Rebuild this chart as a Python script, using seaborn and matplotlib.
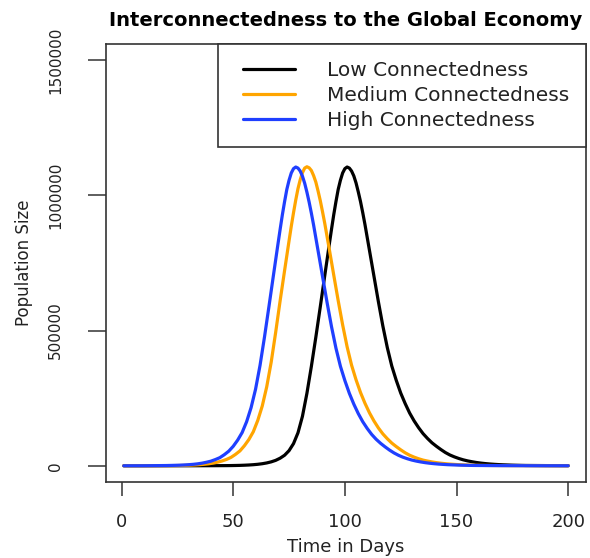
import pandas as pd
import matplotlib
matplotlib.use("Agg")
import matplotlib.pyplot as plt
import seaborn as sns
from matplotlib.lines import Line2D
from matplotlib.legend_handler import HandlerLine2D

sns.set_theme(style="white")
plt.rcParams['font.family'] = ['DejaVu Sans']

# curves: population in thousands,
# every 2 days on the flanks, every day around each peak
groups = ["Low Connectedness", "Medium Connectedness", "High Connectedness"]
colors = ["black", "#FFA500", "#1F3FFF"]

days_low = ([1, 15, 30, 40] + list(range(47, 93, 2)) + list(range(93, 110))
            + list(range(111, 183, 2)) + [190, 200])
pop_low = [0, 0, 0.1, 0.3,
           0.6, 0.8, 1.1, 1.5, 2.1, 2.9, 4.0, 5.5, 7.6, 10.5,
           14.5, 20, 28, 39, 56, 82, 122, 183, 268, 368,
           476, 589, 704,
           818, 874, 928, 977, 1022, 1056, 1083, 1099, 1105,
           1101, 1090, 1072, 1046, 1013, 977, 936, 892,
           797, 702, 607, 517, 437, 369, 316, 269, 230, 195,
           166, 141, 119, 101, 85, 72, 60, 49, 40, 33,
           27, 22, 18, 14.8, 12, 9.8, 8.0, 6.5, 5.3, 4.3,
           3.5, 2.9, 2.3, 1.9, 1.5, 1.2,
           0.7, 0.4]

days_med = ([1, 11, 21, 25] + list(range(29, 75, 2)) + list(range(75, 92))
            + list(range(93, 165, 2)) + [175, 190, 200])
pop_med = [0, 0.05, 0.5, 0.9,
           1.7, 2.3, 3.1, 4.1, 5.5, 7.3, 9.9, 13.4, 17.8, 23.5,
           31, 42, 55, 74, 97, 126, 168, 221, 292, 383,
           493, 610, 722,
           832, 886, 936, 983, 1025, 1058, 1084, 1101, 1106,
           1102, 1092, 1073, 1049, 1016, 980, 939, 896,
           802, 706, 611, 521, 440, 372, 318, 271, 231, 196,
           166, 140, 118, 100, 84, 71, 59, 48, 39, 32,
           26, 21, 17.4, 14.2, 11.6, 9.4, 7.7, 6.2, 5.1, 4.1,
           3.4, 2.8, 2.2, 1.8, 1.5, 1.2,
           0.5, 0.15, 0.07]

days_high = ([1, 10, 20] + list(range(24, 70, 2)) + list(range(70, 87))
             + list(range(88, 160, 2)) + [170, 185, 200])
pop_high = [0, 0.1, 0.9,
            1.7, 2.2, 3.0, 4.0, 5.3, 7.1, 9.6, 13, 17, 23,
            30, 41, 54, 72, 95, 123, 163, 215, 283, 371,
            476, 589, 704,
            818, 874, 928, 977, 1022, 1056, 1083, 1099, 1105,
            1101, 1090, 1071, 1045, 1012, 975, 934, 890,
            795, 700, 605, 515, 435, 368, 315, 268, 228, 193,
            163, 138, 116, 98, 83, 70, 58, 47.5, 38.8, 31.7,
            26, 21.1, 17.3, 14.1, 11.5, 9.4, 7.7, 6.2, 5.1, 4.1,
            3.4, 2.8, 2.2, 1.8, 1.5, 1.2,
            0.5, 0.15, 0.05]

x_ticks = [0, 50, 100, 150, 200]
y_ticks = [0, 500000, 1000000, 1500000]

frames = []
for g, d, p in zip(groups, [days_low, days_med, days_high], [pop_low, pop_med, pop_high]):
    frames.append(pd.DataFrame({"day": d, "population": [v * 1000 for v in p], "group": g}))
df = pd.concat(frames, ignore_index=True)

fig = plt.figure(figsize=(5.9, 5.58), dpi=100)
ax = fig.add_axes([106 / 590, 1 - 482 / 558, 480 / 590, 438 / 558])

sns.lineplot(data=df, x="day", y="population", hue="group", hue_order=groups,
             palette=colors, linewidth=2.3, estimator=None, ax=ax,
             solid_joinstyle="round", solid_capstyle="round")

ax.set_xlim(-6.96, 207.96)
ax.set_ylim(-60000, 1560000)
ax.set_xticks(x_ticks)
ax.set_yticks(y_ticks)
ax.ticklabel_format(style="plain", axis="y")

for s in ax.spines.values():
    s.set_visible(True)
    s.set_color("#333333")
    s.set_linewidth(1.2)

ax.tick_params(axis="x", length=10, width=1.1, pad=12.5, labelsize=13,
               color="#333333", labelcolor="#222222", direction="out", bottom=True)
ax.tick_params(axis="y", length=13, width=1.1, pad=18, labelsize=11,
               color="#333333", labelcolor="#222222", direction="out", left=True,
               labelrotation=90)
for lab in ax.get_yticklabels():
    lab.set_va("center")

ax.set_title("Interconnectedness to the Global Economy", fontsize=14,
             fontweight="bold", pad=13, color="black")
ax.set_xlabel("Time in Days", fontsize=13, labelpad=5, color="#222222")
ax.set_ylabel("Population Size", fontsize=12, labelpad=11, color="#222222")

old = ax.get_legend()
handles = old.legend_handles
labels = [t.get_text() for t in old.texts]
old.remove()
for h, c in zip(handles, colors):
    h.set_linewidth(2.3)
    h.set_color(c)
leg = ax.legend(handles, labels, loc="upper right", bbox_to_anchor=(1, 1),
                borderaxespad=0, frameon=True, fancybox=False, framealpha=1,
                edgecolor="#333333", fontsize=14.5, handlelength=2.99,
                handletextpad=1.58, borderpad=0.83, labelspacing=0.30,
                handler_map={Line2D: HandlerLine2D(xpad=0.41)})
leg.get_frame().set_linewidth(1.2)
for t in leg.get_texts():
    t.set_color("#222222")

fig.savefig("out.png", dpi=100)
